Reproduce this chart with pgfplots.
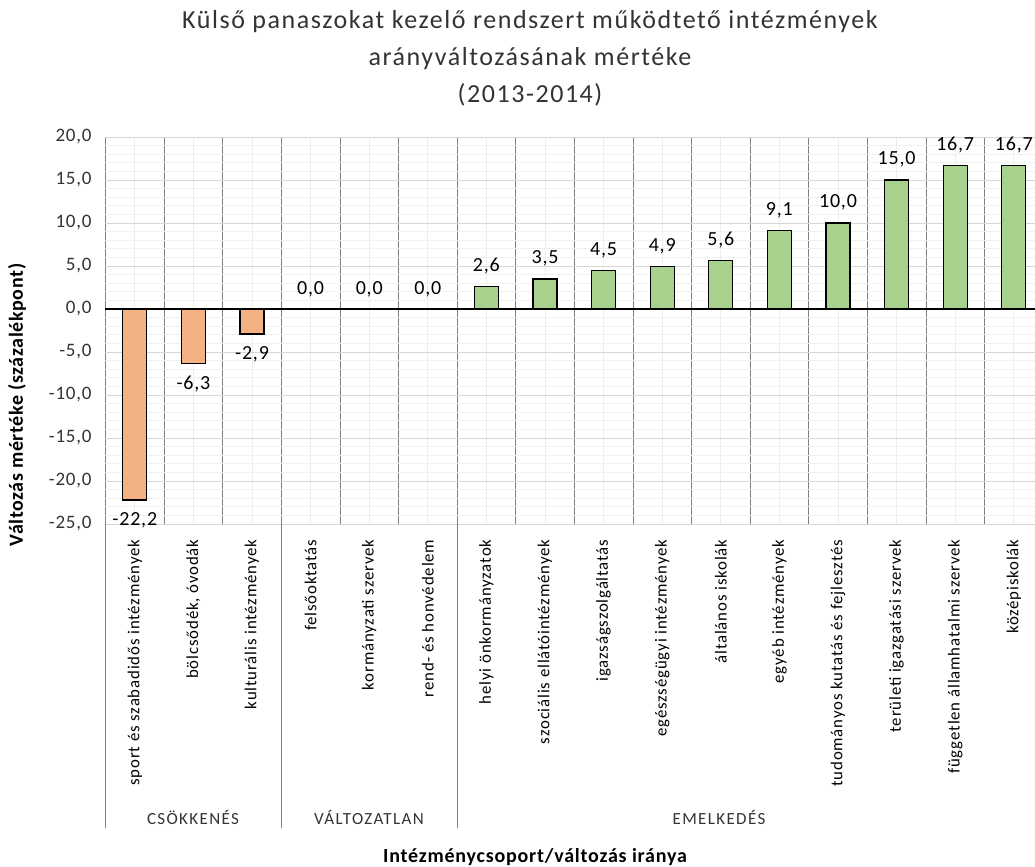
\documentclass[border=0pt]{standalone}
\usepackage{fontspec}
\setmainfont{Carlito}
\usepackage{pgfplots}
\pgfplotsset{compat=1.18}
\definecolor{decr}{HTML}{F4B183}
\definecolor{incr}{HTML}{A9D18E}
\definecolor{txt}{HTML}{333333}
\newcommand{\lspace}[1]{\addfontfeatures{LetterSpace=#1}}
\begin{document}
\begin{tikzpicture}
\useasboundingbox (0,0) rectangle (517.5pt,-433.5pt);
\begin{axis}[
    at={(52.75pt,-262pt)}, anchor=south west,
    scale only axis, width=468.8pt, height=193.5pt,
    xmin=-0.5, xmax=15.5, ymin=-25, ymax=20,
    ybar, bar width=12pt,
    axis line style={draw=none},
    tick style={draw=none},
    xtick={0,...,15},
    xticklabels={sport és szabadidős intézmények, {bölcsődék, óvodák}, kulturális intézmények,
        felsőoktatás, kormányzati szervek, rend- és honvédelem,
        helyi önkormányzatok, szociális ellátóintézmények, igazságszolgáltatás,
        egészségügyi intézmények, általános iskolák, egyéb intézmények,
        tudományos kutatás és fejlesztés, területi igazgatási szervek,
        független államhatalmi szervek, középiskolák},
    xticklabel style={rotate=90, anchor=east, font=\fontsize{8.4}{9}\selectfont\lspace{5}, text=black},
    minor xtick={-0.5,0.5,...,15.5},
    ytick={-25,-20,...,20},
    minor ytick={-25,-24,...,20},
    grid=both,
    major x grid style={draw=black!7},
    minor x grid style={draw=black!50},
    major y grid style={draw=black!16},
    minor y grid style={draw=black!6},
    yticklabel style={font=\fontsize{9.5}{10}\selectfont\lspace{4}, text=txt, xshift=-3.5pt},
    /pgf/number format/fixed, /pgf/number format/fixed zerofill,
    /pgf/number format/precision=1, /pgf/number format/use comma,
    /pgf/number format/assume math mode=true,
    nodes near coords, nodes near coords align={vertical},
    every node near coord/.append style={font=\fontsize{10}{11}\selectfont\lspace{4}, text=black, inner ysep=6pt},
    clip=false,
]
\addplot[fill=decr, draw=black, line width=0.6pt, bar shift=0pt] coordinates {(0,-22.2) (1,-6.3) (2,-2.9)};
\addplot[draw=none, fill=none, bar shift=0pt] coordinates {(3,0) (4,0) (5,0)};
\addplot[fill=incr, draw=black, line width=0.6pt, bar shift=0pt] coordinates {
    (6,2.6) (7,3.5) (8,4.5) (9,4.9) (10,5.6) (11,9.1)
    (12,10.0) (13,15.0) (14,16.7) (15,16.7)};
\draw[black, line width=0.7pt] (axis cs:-0.5,0) -- (axis cs:15.5,0);
\end{axis}
\begin{scope}[x=0.5pt, y=-0.5pt]
\node[align=center, text=txt, font=\fontsize{13}{18.5}\selectfont\lspace{6}] at (530,58)
    {Külső panaszokat kezelő rendszert működtető intézmények\\arányváltozásának mértéke\\(2013-2014)};
\node[rotate=90, text=black, font=\bfseries\fontsize{10}{11}\selectfont\lspace{3}] at (17,405)
    {Változás mértéke (százalékpont)};
\node[text=black, font=\bfseries\fontsize{10}{11}\selectfont\lspace{4}] at (535,857)
    {Intézménycsoport/változás iránya};
\draw[black!50] (105.5,524) -- (105.5,828);
\draw[black!50] (281.3,524) -- (281.3,828);
\draw[black!50] (457.1,524) -- (457.1,828);
\node[text=txt, font=\fontsize{8.5}{9}\selectfont\lspace{8}] at (193,817) {CSÖKKENÉS};
\node[text=txt, font=\fontsize{8.5}{9}\selectfont\lspace{8}] at (369,817) {VÁLTOZATLAN};
\node[text=txt, font=\fontsize{8.5}{9}\selectfont\lspace{8}] at (719,817) {EMELKEDÉS};
\end{scope}
\end{tikzpicture}
\end{document}
